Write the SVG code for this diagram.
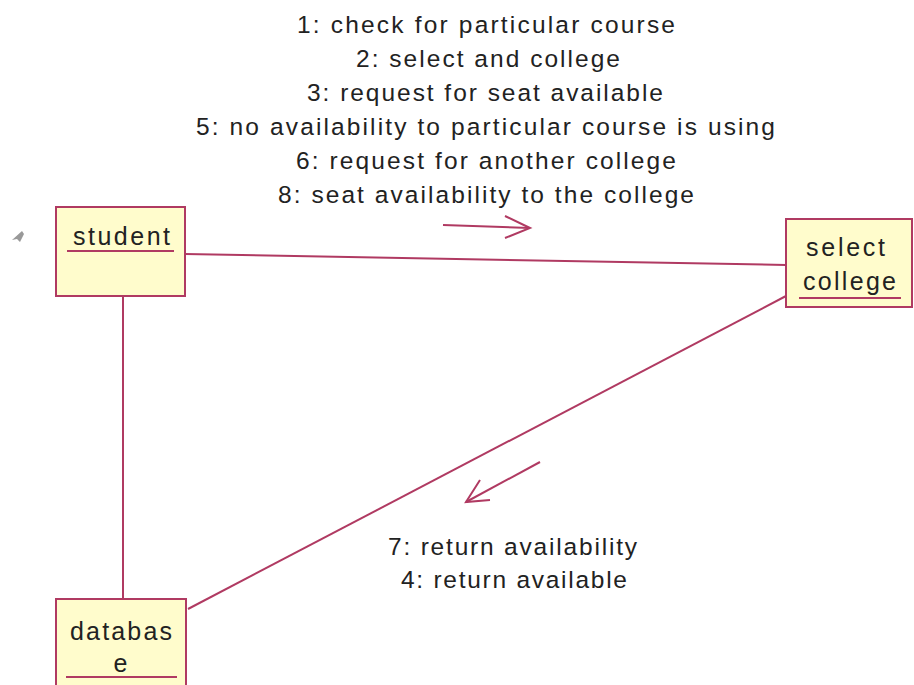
<svg xmlns="http://www.w3.org/2000/svg" width="914" height="685" viewBox="0 0 914 685">
<defs>
<style>
.box{fill:#fffccc;stroke:#b03a62;stroke-width:2}
.ul{stroke:#b03a62;stroke-width:2}
.ln{stroke:#b03a62;stroke-width:2;fill:none}
.t{font-family:"Liberation Sans",Arial,sans-serif;font-size:25px;fill:#222;text-anchor:middle}
.m{font-family:"Liberation Sans",Arial,sans-serif;font-size:24.5px;fill:#222;text-anchor:middle}
</style>
</defs>
<rect width="914" height="685" fill="#fff"/>
<polygon points="12,240 22,231 24,234 20,242 17,239" fill="#999"/>
<g id="connectors">
<line class="ln" x1="185" y1="254" x2="786" y2="265"/>
<line class="ln" x1="123" y1="296" x2="123" y2="599"/>
<line class="ln" x1="786" y1="296" x2="188" y2="609"/>
<line class="ln" x1="443" y1="225" x2="530" y2="228"/>
<polyline class="ln" points="505,216 530,228 505,238"/>
<line class="ln" x1="540" y1="462" x2="466" y2="502"/>
<polyline class="ln" points="480,480 466,502 490,500"/>
</g>
<g id="labels">
<text class="m" x="486" y="33" textLength="378" lengthAdjust="spacing">1: check for particular course</text>
<text class="m" x="488" y="67" textLength="264" lengthAdjust="spacing">2: select and college</text>
<text class="m" x="485" y="101" textLength="356" lengthAdjust="spacing">3: request for seat available</text>
<text class="m" x="485.5" y="135" textLength="579" lengthAdjust="spacing">5: no availability to particular course is using</text>
<text class="m" x="486" y="169" textLength="380" lengthAdjust="spacing">6: request for another college</text>
<text class="m" x="486" y="203" textLength="416" lengthAdjust="spacing">8: seat availability to the college</text>
<text class="m" x="512.5" y="555" textLength="249" lengthAdjust="spacing">7: return availability</text>
<text class="m" x="514" y="588" textLength="226" lengthAdjust="spacing">4: return available</text>
</g>
<g id="student">
<rect class="box" x="56" y="207" width="129" height="89"/>
<text class="t" x="121.5" y="245" textLength="97" lengthAdjust="spacing">student</text>
<line class="ul" x1="67" y1="251" x2="174" y2="251"/>
</g>
<g id="select-college">
<rect class="box" x="786" y="219" width="126" height="88"/>
<text class="t" x="845.5" y="256" textLength="79" lengthAdjust="spacing">select</text>
<text class="t" x="849.5" y="290" textLength="93" lengthAdjust="spacing">college</text>
<line class="ul" x1="799" y1="298" x2="901" y2="298"/>
</g>
<g id="database">
<rect class="box" x="56" y="599" width="130" height="95"/>
<text class="t" x="121" y="640" textLength="102" lengthAdjust="spacing">databas</text>
<text class="t" x="120.5" y="672">e</text>
<line class="ul" x1="66" y1="677" x2="177" y2="677"/>
</g>
</svg>
